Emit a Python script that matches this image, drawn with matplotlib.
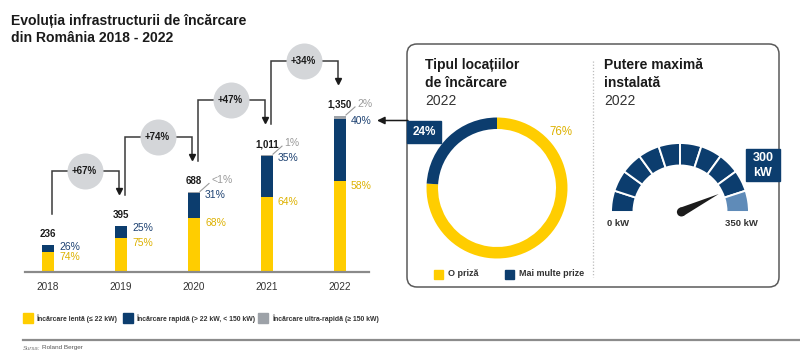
import numpy as np
import matplotlib.pyplot as plt
from matplotlib.patches import FancyBboxPatch, Rectangle, Wedge, Polygon, Circle

plt.rcParams['font.family'] = ['Liberation Sans', 'DejaVu Sans']

# data
years = ['2018', '2019', '2020', '2021', '2022']
totals = [236, 395, 688, 1011, 1350]
slow_pct = [74, 75, 68, 64, 58]
fast_pct = [26, 25, 31, 35, 40]
ultra_labels = [None, None, '<1%', '1%', '2%']
growth = ['+67%', '+74%', '+47%', '+34%']
location_share = [76, 24]
location_labels = ['O priză', 'Mai multe prize']
gauge_max = 350
gauge_step = 35
gauge_value = 300
series_labels = ['Încărcare lentă (≤ 22 kW)', 'Încărcare rapidă (> 22 kW, < 150 kW)',
                 'Încărcare ultra-rapidă (≥ 150 kW)']

YELLOW = '#FFCD00'
BLUE = '#0C3D6E'
LIGHTBLUE = '#5F8BB8'
ULTRA = '#9DA2A8'
CIRCLE = '#D4D6D9'
YTEXT = '#DDB100'
BTEXT = '#1E4272'
GTEXT = '#9A9A9A'
INK = '#1A1A1A'
LINE = '#3A3A3A'

W, H = 800, 360
fig = plt.figure(figsize=(8, 3.6), dpi=100)


def px_axes(left, top, width, height):
    return fig.add_axes([left / W, 1 - (top + height) / H, width / W, height / H])


bg = px_axes(0, 0, W, H)
bg.set_xlim(0, W)
bg.set_ylim(H, 0)
bg.axis('off')

# titles
bg.text(11, 25, 'Evoluția infrastructurii de încărcare', fontsize=10.1, fontweight='bold', color=INK, va='baseline')
bg.text(11, 42, 'din România 2018 - 2022', fontsize=10.1, fontweight='bold', color=INK, va='baseline')

# ---- bar chart ----
scale = 0.1156          # px per charger
ax_top, ax_bot = 30, 272
ax = px_axes(25, ax_top, 344, ax_bot - ax_top)
ax.set_xlim((25 - 48) / 73, (369 - 48) / 73)
ax.set_ylim(0, (ax_bot - ax_top) / scale)
ax.patch.set_visible(False)
for s in ax.spines.values():
    s.set_visible(False)
ax.set_yticks([])
PXX = 1 / 73
PXY = 1 / scale

x = np.arange(len(years))
tot = np.array(totals, float)
slow = tot * np.array(slow_pct) / 100
fast = tot * np.array(fast_pct) / 100
ultra = tot - slow - fast
bw = 12 * PXX
ax.bar(x, slow, width=bw, color=YELLOW, zorder=2)
ax.bar(x, fast, bottom=slow, width=bw, color=BLUE, zorder=2)
ax.bar(x, ultra, bottom=slow + fast, width=bw, color=ULTRA, zorder=2)
ax.axhline(0, color='#8A8A8A', lw=1.6, zorder=3, clip_on=False)
ax.set_xticks(x, years)
ax.tick_params(axis='x', length=0, pad=7, labelsize=7.2, labelcolor='#333333')

for i in x:
    ax.annotate(f'{totals[i]:,}', (i, tot[i]), xytext=(0, 8), textcoords='offset pixels',
                ha='center', va='baseline', fontsize=7, fontweight='bold', color=INK)
    ax.annotate(f'{slow_pct[i]}%', (i, slow[i]), xytext=(11, -5), textcoords='offset pixels',
                ha='left', va='center', fontsize=7.5, color=YTEXT)
    ax.annotate(f'{fast_pct[i]}%', (i, slow[i] + fast[i]), xytext=(11, -2), textcoords='offset pixels',
                ha='left', va='center', fontsize=7.5, color=BTEXT)
    if ultra_labels[i]:
        ax.annotate(ultra_labels[i], (i, tot[i]), xytext=(17, 12), textcoords='offset pixels',
                    ha='left', va='center', fontsize=7.5, color=GTEXT)
        ax.plot([i + 6 * PXX, i + 15 * PXX], [tot[i] + 1 * PXY, tot[i] + 9 * PXY],
                color=GTEXT, lw=0.8, clip_on=False)

# growth connectors
for i, g in enumerate(growth):
    xa = i + 4 * PXX
    xb = i + 1 - 2 * PXX
    y0 = tot[i] + 31 * PXY
    ym = tot[i + 1] + 55 * PXY
    y1 = tot[i + 1] + 32 * PXY
    ax.plot([xa, xa, xb, xb], [y0, ym, ym, y1 + 4 * PXY], color=LINE, lw=1.1,
            clip_on=False, zorder=2, solid_joinstyle='miter')
    ax.plot([xb], [y1 + 3 * PXY], marker='v', ms=5, color=INK, clip_on=False, zorder=3)
    ax.scatter([i + 0.5], [ym], s=(36 * 0.72) ** 2, color=CIRCLE, zorder=4, clip_on=False, lw=0)
    ax.text(i + 0.5, ym, g, ha='center', va='center', fontsize=7, fontweight='bold',
            color=INK, zorder=5)

# legend under bars
leg_x = [23, 123, 258]
for lx, lab, c in zip(leg_x, series_labels, [YELLOW, BLUE, ULTRA]):
    bg.add_patch(Rectangle((lx, 313), 10, 10, color=c))
    bg.text(lx + 13 if c != ULTRA else lx + 14, 318.5, lab, fontsize=4.95, fontweight='bold',
            color='#333333', va='center', ha='left')

bg.plot([23, 800], [340, 340], color='#8C8C8C', lw=1.6)
bg.text(23, 348, 'Sursa:', fontsize=4.3, style='italic', color='#777777', va='center')
bg.text(42, 348, 'Roland Berger', fontsize=4.6, color='#555555', va='center')

# ---- right panel ----
bg.add_patch(FancyBboxPatch((407, 44), 372, 243, boxstyle='round,pad=0,rounding_size=10',
                            fc='white', ec='#5A5A5A', lw=1.1))
bg.plot([593, 593], [61, 277], color='#BDBDBD', lw=0.9, ls=(0, (1, 1.5)))

for tx, lines in [(425, ['Tipul locațiilor', 'de încărcare']), (604, ['Putere maximă', 'instalată'])]:
    bg.text(tx, 69, lines[0], fontsize=10, fontweight='bold', color=INK, va='baseline')
    bg.text(tx, 87, lines[1], fontsize=10, fontweight='bold', color=INK, va='baseline')
    bg.text(tx, 105, '2022', fontsize=10, color='#333333', va='baseline')

# donut
dax = px_axes(497 - 70.5, 188 - 70.5, 141, 141)
dax.pie(location_share, colors=[YELLOW, BLUE], startangle=90, counterclock=False,
        radius=1, wedgeprops=dict(width=11.5 / 70.5, linewidth=0))
dax.set_xlim(-1, 1)
dax.set_ylim(-1, 1)
dax.set_aspect('equal')
dax.axis('off')

bg.annotate('', xy=(377, 120.5), xytext=(408, 120.5),
            arrowprops=dict(arrowstyle='-|>,head_length=0.45,head_width=0.22', color=INK, lw=1.1,
                            shrinkA=0, shrinkB=0))
bg.add_patch(Rectangle((407, 120.5), 34, 22, color=BLUE, zorder=5))
bg.text(424, 131.8, f'{location_share[1]}%', fontsize=8.5, fontweight='bold', color='white',
        ha='center', va='center', zorder=6)
bg.text(561, 132, f'{location_share[0]}%', fontsize=8.3, color=YTEXT, ha='center', va='center')

for sx, tx, lab, c in [(433.5, 448, location_labels[0], YELLOW), (505, 519, location_labels[1], BLUE)]:
    bg.add_patch(Rectangle((sx, 269.5), 9, 9, color=c))
    bg.text(tx, 274, lab, fontsize=6.5, fontweight='bold', color='#333333', va='center')

# gauge
gs = 69.0
gax = px_axes(680 - 1.1 * gs, 212 - 1.1 * gs, 2.2 * gs, 1.25 * gs)
gax.set_xlim(-1.1, 1.1)
gax.set_ylim(-0.15, 1.1)
gax.axis('off')
for v0 in range(0, gauge_max, gauge_step):
    v1 = v0 + gauge_step
    t1 = 180 - v1 / gauge_max * 180
    t2 = 180 - v0 / gauge_max * 180
    col = BLUE if v0 < gauge_value else LIGHTBLUE
    gax.add_patch(Wedge((0, 0), 1, t1, t2, width=22.5 / gs, fc=col, ec='white', lw=1.4))
ang = np.deg2rad(180 - gauge_value / gauge_max * 180)
cx, cy = 0.02, 0.0
L, bwid = 0.6, 0.065
d = np.array([np.cos(ang), np.sin(ang)])
n = np.array([-d[1], d[0]])
tip = np.array([cx, cy]) + L * d
gax.add_patch(Polygon([np.array([cx, cy]) + bwid * n, tip, np.array([cx, cy]) - bwid * n],
                      closed=True, fc='#1C1C1C', ec='none'))
gax.add_patch(Circle((cx, cy), bwid, fc='#1C1C1C', ec='none'))

bg.text(618, 223.5, '0 kW', fontsize=6.8, fontweight='bold', color='#333333', ha='center', va='center')
bg.text(741.5, 223.5, f'{gauge_max} kW', fontsize=6.8, fontweight='bold', color='#333333',
        ha='center', va='center')
bg.add_patch(Rectangle((746, 149), 33.5, 32, color=BLUE, zorder=5))
bg.text(763, 158, f'{gauge_value}', fontsize=9, fontweight='bold', color='white', ha='center',
        va='center', zorder=6)
bg.text(763, 173, 'kW', fontsize=9, fontweight='bold', color='white', ha='center',
        va='center', zorder=6)

fig.savefig('out.png', dpi=100)
